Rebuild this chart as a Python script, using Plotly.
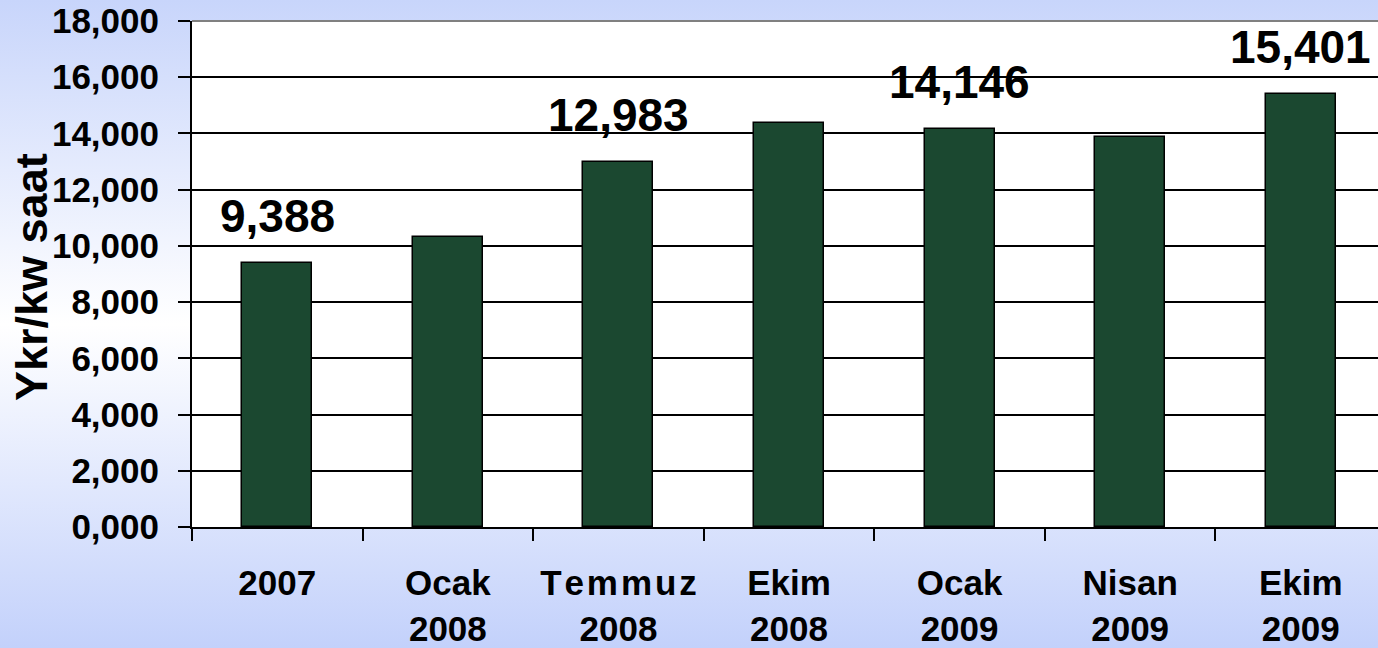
import base64
import plotly.graph_objects as go

# ---- data ----
categories = ["2007", "Ocak<br>2008", "T\u200ae\u200am\u200am\u200au\u200az<br>2008", "Ekim<br>2008",
              "Ocak<br>2009", "Nisan<br>2009", "Ekim<br>2009"]
values = [9.388, 10.30, 12.983, 14.36, 14.146, 13.88, 15.401]
labelled = [True, False, True, False, True, False, True]
y_title = "Ykr/kw saat"
y_ticks = [0, 2, 4, 6, 8, 10, 12, 14, 16, 18]

FONT = "Liberation Sans, Arial, sans-serif"
W, H = 1378, 648
L, T, B = 192, 21, 121
plot_w = W - L
plot_h = H - T - B

# background gradient (blue -> white -> blue)
svg = (
    '<svg xmlns="http://www.w3.org/2000/svg" width="100" height="100" preserveAspectRatio="none">'
    '<defs><linearGradient id="g" x1="0" y1="0" x2="0" y2="1">'
    '<stop offset="0" stop-color="#c8d5fb"/>'
    '<stop offset="0.5" stop-color="#ffffff"/>'
    '<stop offset="1" stop-color="#c3d1fb"/>'
    '</linearGradient></defs>'
    '<rect width="100" height="100" fill="url(#g)"/></svg>'
)
bg_src = "data:image/svg+xml;base64," + base64.b64encode(svg.encode()).decode()


def fmt(v):
    return f"{v:.3f}".replace(".", ",")


xs = list(range(len(categories)))

fig = go.Figure()
fig.add_trace(go.Bar(
    x=xs, y=values, width=0.41,
    marker=dict(color="#1b4830", line=dict(color="#000000", width=1.5)),
    hoverinfo="skip",
))

annotations = []
for i, v, show in zip(xs, values, labelled):
    if show:
        annotations.append(dict(
            x=i, y=v, xref="x", yref="y", text=fmt(v), showarrow=False,
            yanchor="bottom", yshift=19,
            font=dict(family=FONT, size=46, color="#000000", weight="bold"),
        ))

# y axis title as rotated annotation
annotations.append(dict(
    x=(31 - L) / plot_w, y=(H - B - 277) / plot_h, xref="paper", yref="paper",
    text=y_title, textangle=-90, showarrow=False, xanchor="center", yanchor="middle",
    font=dict(family=FONT, size=45, color="#000000", weight="bold"),
))

x_end = len(categories) - 0.5 - 8 / 170.5

fig.update_layout(
    width=W, height=H,
    margin=dict(l=L, r=0, t=T, b=B, pad=0),
    paper_bgcolor="#ffffff", plot_bgcolor="#ffffff",
    separators=",.",
    showlegend=False,
    bargap=0,
    annotations=annotations,
    images=[dict(
        source=bg_src, xref="paper", yref="paper",
        x=-L / plot_w, y=1 + T / plot_h,
        sizex=W / plot_w, sizey=H / plot_h,
        sizing="stretch", xanchor="left", yanchor="top", layer="below",
    )],
    shapes=[
        dict(type="rect", xref="paper", yref="paper", x0=0, x1=1, y0=0, y1=1,
             fillcolor="#ffffff", line=dict(width=0), layer="below"),
        dict(type="line", xref="paper", yref="paper", x0=0, x1=1, y0=1, y1=1,
             line=dict(color="#808080", width=2)),
    ],
    xaxis=dict(
        type="linear", range=[-0.5, x_end], showgrid=False, showline=True,
        linecolor="#000000", linewidth=2,
        tickvals=[i - 0.5 for i in xs] + [len(xs) - 0.5], ticktext=[""] * (len(xs) + 1),
        ticks="outside", ticklen=12, tickwidth=2, tickcolor="#000000",
        zeroline=False, fixedrange=True,
    ),
    xaxis2=dict(
        overlaying="x", matches="x", side="bottom", showgrid=False, showline=False,
        tickvals=xs, ticktext=categories, ticks="", ticklabelstandoff=32,
        tickfont=dict(family=FONT, size=35, color="#000000", weight="bold"),
        zeroline=False, fixedrange=True,
    ),
    yaxis=dict(
        range=[0, 18], tickvals=y_ticks, tickformat=".3f",
        showgrid=True, gridcolor="#000000", gridwidth=2,
        showline=True, linecolor="#000000", linewidth=2,
        ticks="outside", ticklen=12, tickwidth=2, tickcolor="#000000",
        ticklabelstandoff=12,
        tickfont=dict(family=FONT, size=35, color="#000000", weight="bold"),
        zeroline=False, fixedrange=True,
    ),
)
# invisible trace to activate the label axis
fig.add_trace(go.Scatter(x=[0], y=[0], xaxis="x2", yaxis="y", mode="markers",
                         marker=dict(opacity=0), hoverinfo="skip", showlegend=False))

fig.write_html("out.html", config={"displayModeBar": False},
               post_script="document.body.style.margin='0';")
